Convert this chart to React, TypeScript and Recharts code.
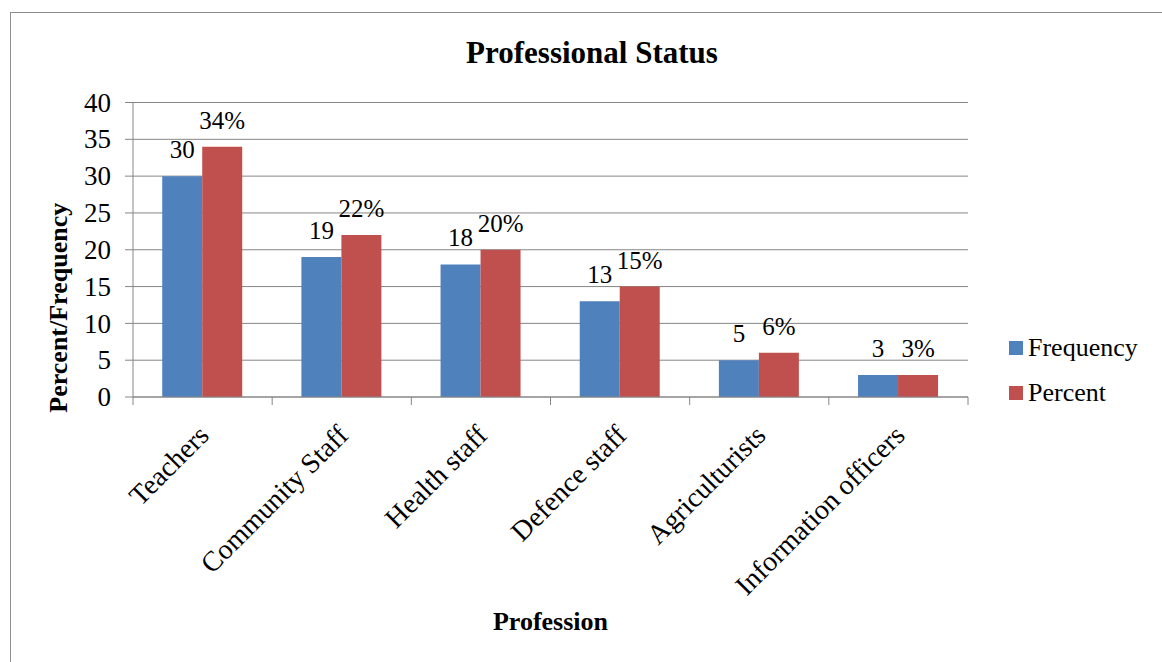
import { BarChart, Bar, XAxis, YAxis, CartesianGrid, Legend, LabelList } from 'recharts'

const professions = ['Teachers', 'Community Staff', 'Health staff', 'Defence staff', 'Agriculturists', 'Information officers']
const frequency = [30, 19, 18, 13, 5, 3]
const percent = [34, 22, 20, 15, 6, 3]
const yTicks = [0, 5, 10, 15, 20, 25, 30, 35, 40]

const seriesNames = ['Frequency', 'Percent']
const seriesColors = ['#4F81BD', '#C0504D']

const FONT = '"Liberation Serif", "Times New Roman", serif'
const AXIS_COLOR = '#868686'
const TICK_SIZE = 8

const data = professions.map((name, i) => ({
  name,
  frequency: frequency[i],
  percent: percent[i],
}))

// category tick: label rotated -45deg, tick marks drawn on the category boundaries
const CategoryTick = (props: any) => {
  const { x, y, payload, index } = props
  const half = payload?.offset ?? 0
  const axisY = y - TICK_SIZE
  const tx = x + 8
  const ty = axisY + 40
  return (
    <g>
      <line x1={x - half} x2={x - half} y1={axisY} y2={axisY + TICK_SIZE} stroke={AXIS_COLOR} />
      {index === professions.length - 1 && (
        <line x1={x + half} x2={x + half} y1={axisY} y2={axisY + TICK_SIZE} stroke={AXIS_COLOR} />
      )}
      <text
        x={tx}
        y={ty}
        textAnchor="end"
        transform={`rotate(-45, ${tx}, ${ty})`}
        style={{ fontFamily: FONT }}
        fontSize={28}
        fill="#000"
      >
        {payload.value}
      </text>
    </g>
  )
}

const ValueTick = (props: any) => {
  const { x, y, payload } = props
  return (
    <text x={x} y={y} dy="0.34em" textAnchor="end" style={{ fontFamily: FONT }} fontSize={27} fill="#000">
      {payload.value}
    </text>
  )
}

const barLabel = (suffix: string) => (props: any) => {
  const { x, y, width, value } = props
  return (
    <text x={x + width / 2} y={y - 18} textAnchor="middle" style={{ fontFamily: FONT }} fontSize={25} fill="#000">
      {value}
      {suffix}
    </text>
  )
}

const YTitle = (props: any) => {
  const { viewBox } = props
  const x = viewBox.x + 56
  const y = viewBox.y + viewBox.height / 2 + 58
  return (
    <text
      x={x}
      y={y}
      textAnchor="middle"
      transform={`rotate(-90, ${x}, ${y})`}
      style={{ fontFamily: FONT }}
      fontSize={26}
      fontWeight="bold"
      fill="#000"
    >
      Percent/Frequency
    </text>
  )
}

const XTitle = (props: any) => {
  const { viewBox } = props
  return (
    <text
      x={viewBox.x + viewBox.width / 2}
      y={viewBox.y + 233}
      textAnchor="middle"
      style={{ fontFamily: FONT }}
      fontSize={26}
      fontWeight="bold"
      fill="#000"
    >
      Profession
    </text>
  )
}

const LegendBox = () => (
  <div style={{ fontFamily: FONT, fontSize: 26, color: '#000' }}>
    {seriesNames.map((name, i) => (
      <div key={name} style={{ display: 'flex', alignItems: 'center', height: 45 }}>
        <span style={{ width: 14, height: 14, background: seriesColors[i], marginRight: 5, display: 'inline-block' }} />
        <span style={{ fontFamily: FONT }}>{name}</span>
      </div>
    ))}
  </div>
)

export default function App() {
  return (
    <div
      style={{
        position: 'absolute',
        left: 10,
        top: 12,
        width: 1152,
        height: 650,
        borderLeft: '1px solid #8e8e8e',
        borderTop: '1px solid #8e8e8e',
        background: '#fff',
        fontFamily: FONT,
      }}
    >
      <div
        style={{
          position: 'absolute',
          left: 381,
          top: 24,
          width: 400,
          textAlign: 'center',
          fontSize: 31,
          lineHeight: '31px',
          fontWeight: 'bold',
          color: '#000',
        }}
      >
        Professional Status
      </div>
      <BarChart
        width={1151}
        height={649}
        data={data}
        margin={{ top: 89.5, right: 194, bottom: 0, left: 0 }}
        barCategoryGap="21%"
        barGap={0}
      >
        <CartesianGrid vertical={false} stroke={AXIS_COLOR} />
        <XAxis
          dataKey="name"
          height={265}
          interval={0}
          tickLine={false}
          tickSize={TICK_SIZE}
          tickMargin={0}
          stroke={AXIS_COLOR}
          tick={<CategoryTick />}
          label={<XTitle />}
        />
        <YAxis
          width={122}
          domain={[0, 40]}
          ticks={yTicks}
          interval={0}
          tickSize={TICK_SIZE}
          tickMargin={14}
          stroke={AXIS_COLOR}
          tick={<ValueTick />}
          label={<YTitle />}
        />
        <Legend
          layout="vertical"
          align="center"
          verticalAlign="middle"
          content={<LegendBox />}
          wrapperStyle={{ left: 998, top: 312, width: 150 }}
        />
        <Bar dataKey="frequency" name={seriesNames[0]} fill={seriesColors[0]} isAnimationActive={false}>
          <LabelList dataKey="frequency" content={barLabel('')} />
        </Bar>
        <Bar dataKey="percent" name={seriesNames[1]} fill={seriesColors[1]} isAnimationActive={false}>
          <LabelList dataKey="percent" content={barLabel('%')} />
        </Bar>
      </BarChart>
    </div>
  )
}
